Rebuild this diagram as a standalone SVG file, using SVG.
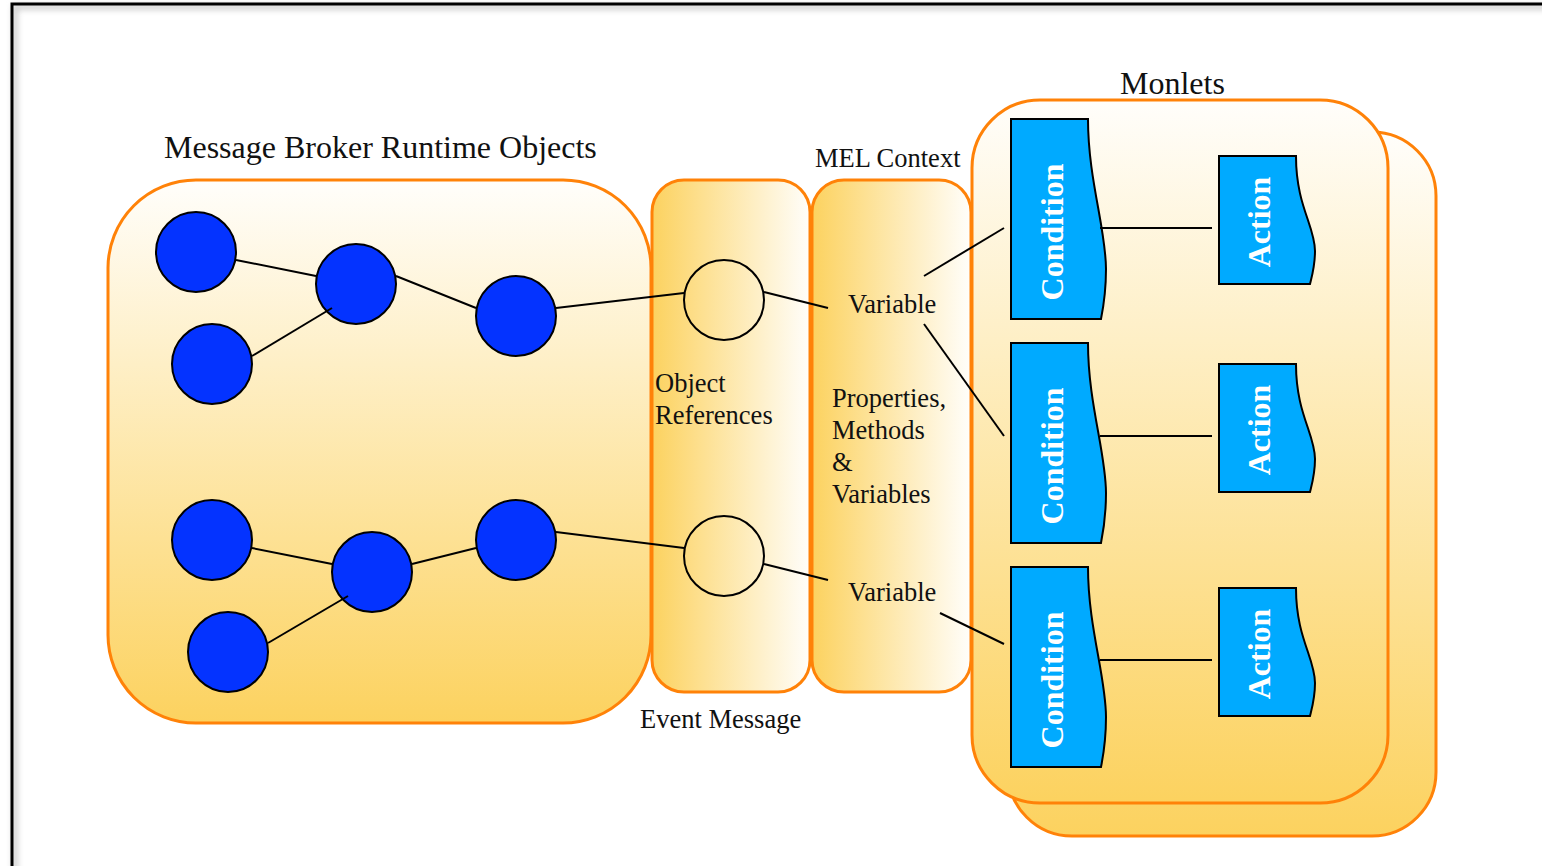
<svg xmlns="http://www.w3.org/2000/svg" width="1542" height="866" viewBox="0 0 1542 866">
<defs>
<linearGradient id="gv" x1="0" y1="0" x2="0" y2="1">
<stop offset="0" stop-color="#fffefb"/>
<stop offset="1" stop-color="#fcd25f"/>
</linearGradient>
<linearGradient id="gh" x1="0" y1="0" x2="1" y2="0">
<stop offset="0" stop-color="#fcd25f"/>
<stop offset="1" stop-color="#fffefb"/>
</linearGradient>
<filter id="sh" x="-5%" y="-5%" width="110%" height="110%">
<feGaussianBlur stdDeviation="3"/>
</filter>
<path id="cond" d="M0,0 H77 C77,60 95,110 95,150 C95,175 92,190 90,200 H0 Z"/>
<path id="act" d="M0,0 H77 C77,50 96,70 96,95 C96,110 93,120 91,128 H0 Z"/>
</defs>
<style>
.box{stroke:#ff8208;stroke-width:3}
.blue{fill:#0433ff;stroke:#000;stroke-width:2}
.hollow{fill:none;stroke:#000;stroke-width:2}
.shape{fill:#00aaff;stroke:#000;stroke-width:2}
.t{font-family:"Liberation Serif","Times New Roman",serif;fill:#111}
.lab{font-size:26.5px}
.ttl{font-size:32px}
.wt{font-family:"Liberation Serif","Times New Roman",serif;font-weight:bold;font-size:32px;fill:#fff;text-anchor:middle}
.ln{stroke:#000;stroke-width:2;fill:none}
</style>
<rect width="1542" height="866" fill="#fff"/>
<rect x="15" y="7" width="1560" height="900" fill="none" stroke="#bbb" stroke-width="4" filter="url(#sh)"/>
<rect x="12" y="4" width="1560" height="900" fill="none" stroke="#000" stroke-width="3"/>

<g id="runtime-objects">
<rect class="box" x="108" y="180" width="543" height="543" rx="88" fill="url(#gv)"/>
<text class="t ttl" x="164" y="158">Message Broker Runtime Objects</text>
</g>
<g id="object-references">
<rect class="box" x="652" y="180" width="158" height="512" rx="32" fill="url(#gh)"/>
<text class="t lab" x="655" y="392">Object</text>
<text class="t lab" x="655" y="424">References</text>
<text class="t lab" x="640" y="728">Event Message</text>
</g>
<g id="mel-context">
<rect class="box" x="812" y="180" width="159" height="512" rx="32" fill="url(#gh)"/>
<text class="t lab" x="815" y="167">MEL Context</text>
<text class="t lab" x="832" y="407">Properties,</text>
<text class="t lab" x="832" y="439">Methods</text>
<text class="t lab" x="832" y="471">&amp;</text>
<text class="t lab" x="832" y="503">Variables</text>
</g>
<g id="monlets">
<rect class="box" x="1008" y="132" width="428" height="704" rx="64" fill="url(#gv)"/>
<rect class="box" x="972" y="100" width="416" height="703" rx="68" fill="url(#gv)"/>
<text class="t ttl" x="1120" y="94">Monlets</text>
</g>

<g id="obj-1"><circle class="blue" cx="196" cy="252" r="40"/></g>
<g id="obj-2"><circle class="blue" cx="356" cy="284" r="40"/></g>
<g id="obj-3"><circle class="blue" cx="212" cy="364" r="40"/></g>
<g id="obj-4"><circle class="blue" cx="516" cy="316" r="40"/></g>
<g id="obj-5"><circle class="blue" cx="212" cy="540" r="40"/></g>
<g id="obj-6"><circle class="blue" cx="372" cy="572" r="40"/></g>
<g id="obj-7"><circle class="blue" cx="228" cy="652" r="40"/></g>
<g id="obj-8"><circle class="blue" cx="516" cy="540" r="40"/></g>

<g id="ref-1"><circle class="hollow" cx="724" cy="300" r="40"/></g>
<g id="ref-2"><circle class="hollow" cx="724" cy="556" r="40"/></g>

<g id="variable-1"><text class="t lab" x="848" y="313">Variable</text></g>
<g id="variable-2"><text class="t lab" x="848" y="601">Variable</text></g>

<g id="condition-1"><use href="#cond" class="shape" x="1011" y="119"/><text class="wt" transform="translate(1063,232) rotate(-90)">Condition</text></g>
<g id="condition-2"><use href="#cond" class="shape" x="1011" y="343"/><text class="wt" transform="translate(1063,456) rotate(-90)">Condition</text></g>
<g id="condition-3"><use href="#cond" class="shape" x="1011" y="567"/><text class="wt" transform="translate(1063,680) rotate(-90)">Condition</text></g>

<g id="action-1"><use href="#act" class="shape" x="1219" y="156"/><text class="wt" transform="translate(1270,222) rotate(-90)">Action</text></g>
<g id="action-2"><use href="#act" class="shape" x="1219" y="364"/><text class="wt" transform="translate(1270,430) rotate(-90)">Action</text></g>
<g id="action-3"><use href="#act" class="shape" x="1219" y="588"/><text class="wt" transform="translate(1270,654) rotate(-90)">Action</text></g>

<g id="connectors">
<line class="ln" x1="236" y1="260" x2="316" y2="276"/>
<line class="ln" x1="252" y1="356" x2="332" y2="308"/>
<line class="ln" x1="396" y1="276" x2="476" y2="308"/>
<line class="ln" x1="556" y1="308" x2="684" y2="293"/>
<line class="ln" x1="252" y1="548" x2="332" y2="564"/>
<line class="ln" x1="268" y1="643" x2="348" y2="596"/>
<line class="ln" x1="412" y1="564" x2="476" y2="548"/>
<line class="ln" x1="556" y1="532" x2="684" y2="548"/>
<line class="ln" x1="764" y1="292" x2="828" y2="308"/>
<line class="ln" x1="764" y1="564" x2="828" y2="580"/>
<line class="ln" x1="924" y1="276" x2="1004" y2="228"/>
<line class="ln" x1="924" y1="324" x2="1004" y2="436"/>
<line class="ln" x1="940" y1="613" x2="1004" y2="644"/>
<line class="ln" x1="1100" y1="228" x2="1212" y2="228"/>
<line class="ln" x1="1100" y1="436" x2="1212" y2="436"/>
<line class="ln" x1="1100" y1="660" x2="1212" y2="660"/>
</g>
</svg>
